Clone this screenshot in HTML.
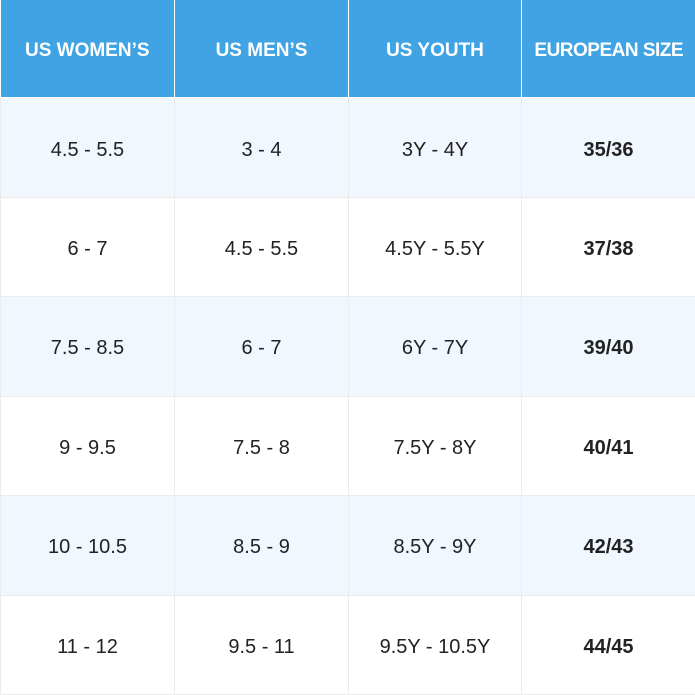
<!DOCTYPE html>
<html><head><style>
html,body{margin:0;padding:0;background:#fff;}
table{border-collapse:collapse;width:695px;height:695px;table-layout:fixed;font-family:"Liberation Sans",sans-serif;}
td,th{text-align:center;padding:5px 0 0 0;border:1px solid #ececec;}
th{background:#3fa3e4;color:#fff;font-weight:bold;font-size:19px;height:93px;border:1px solid #fff;border-top:none;padding-top:4px;}
td{font-size:20px;color:#222;height:93px;}
tr.a td{background:#f0f7fe;}
td.b{font-weight:bold;}
</style></head><body>
<table>
<colgroup><col style="width:174px"><col style="width:174px"><col style="width:173px"><col style="width:174px"></colgroup>
<tr><th style="border-left:none">US WOMEN’S</th><th>US MEN’S</th><th>US YOUTH</th><th style="border-right:none;letter-spacing:-0.5px">EUROPEAN SIZE</th></tr>
<tr class="a"><td>4.5 - 5.5</td><td>3 - 4</td><td>3Y - 4Y</td><td class="b">35/36</td></tr>
<tr><td>6 - 7</td><td>4.5 - 5.5</td><td>4.5Y - 5.5Y</td><td class="b">37/38</td></tr>
<tr class="a"><td>7.5 - 8.5</td><td>6 - 7</td><td>6Y - 7Y</td><td class="b">39/40</td></tr>
<tr><td>9 - 9.5</td><td>7.5 - 8</td><td>7.5Y - 8Y</td><td class="b">40/41</td></tr>
<tr class="a"><td>10 - 10.5</td><td>8.5 - 9</td><td>8.5Y - 9Y</td><td class="b">42/43</td></tr>
<tr><td>11 - 12</td><td>9.5 - 11</td><td>9.5Y - 10.5Y</td><td class="b">44/45</td></tr>
</table>
</body></html>
